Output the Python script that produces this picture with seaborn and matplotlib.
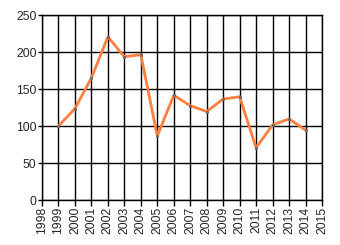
import matplotlib
matplotlib.use("Agg")
import matplotlib.pyplot as plt
import seaborn as sns
import pandas as pd

years = [1999, 2000, 2001, 2002, 2003, 2004, 2005, 2006, 2007, 2008,
         2009, 2010, 2011, 2012, 2013, 2014]
values = [100, 123.5, 165, 220.5, 193.5, 196.5, 86.5, 141.5, 127.5, 119.5,
          136.5, 139.5, 70.5, 101.5, 109.5, 94.5]
x_ticks = list(range(1998, 2016))
y_ticks = [0, 50, 100, 150, 200, 250]

sns.set_style("white")
plt.rcParams['font.family'] = ['Liberation Sans', 'DejaVu Sans']

df = pd.DataFrame({"year": years, "value": values})

fig = plt.figure(figsize=(3.4, 2.45), dpi=100)
ax = fig.add_axes([42/340, 45/245, 280/340, 185/245])
sns.lineplot(data=df, x="year", y="value", ax=ax, color="#FF7F3F",
             linewidth=2, marker="o", markersize=2.2,
             markerfacecolor="#666666", markeredgewidth=0, zorder=3)

ax.set_xlim(1998, 2015)
ax.set_ylim(0, 250)
ax.set_xticks(x_ticks)
ax.set_xticklabels([str(y) for y in x_ticks], rotation=90, fontsize=8.7)
ax.set_yticks(y_ticks)
ax.set_yticklabels([str(v) for v in y_ticks], fontsize=8.7)
ax.grid(True, color="black", linewidth=1)
ax.set_axisbelow(True)
for s in ax.spines.values():
    s.set_color("black")
    s.set_linewidth(1)
ax.tick_params(axis="x", length=4, width=1, color="black", pad=1, bottom=True)
ax.tick_params(axis="y", length=3, width=1, color="black", pad=1, left=True)
ax.set_xlabel("")
ax.set_ylabel("")

fig.savefig("out.png", dpi=100)
